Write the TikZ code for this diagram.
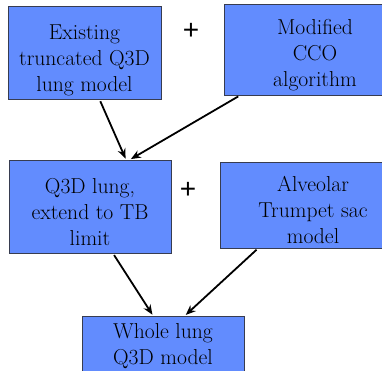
\documentclass[tikz,border=0pt]{standalone}
\usepackage{fontspec}
\newfontfamily\plusfont{Liberation Sans}
\usetikzlibrary{arrows.meta,positioning}
\definecolor{lungblue}{RGB}{98,140,254}
\definecolor{lungedge}{RGB}{55,60,80}
\newcommand\dropline[1]{\rule{0pt}{#1}}
\tikzset{
  stage/.style={rectangle,draw=lungedge,fill=lungblue,line width=0.8pt,
                font=\fontsize{21.6}{26}\selectfont,align=center,inner sep=2pt},
  arr/.style={-{Stealth[length=10pt,width=8pt]},line width=1.8pt,
              shorten <=2pt,shorten >=1pt},
  plus/.style={font=\plusfont\fontsize{28}{28}\selectfont,inner sep=0pt},
}

\begin{document}
\begin{tikzpicture}[x=1pt,y=-1pt]
  \useasboundingbox (0,0) rectangle (382,371);
  \node[stage,minimum width=153pt,minimum height=93pt] (trunc) at (84.5,52.5)
    {\dropline{31pt}Existing\\truncated Q3D\\lung model};
  \node[stage,minimum width=182pt,minimum height=91pt] (cco) at (315,49.5)
    {\dropline{27pt}Modified\\CCO\\algorithm};
  \node[stage,minimum width=162pt,minimum height=93pt] (tb) at (90,206.5)
    {\dropline{26pt}Q3D lung,\\extend to TB\\limit};
  \node[stage,minimum width=186pt,minimum height=86pt] (sac) at (313,205)
    {\dropline{25pt}Alveolar\\Trumpet sac\\model};
  \node[stage,minimum width=162pt,minimum height=57pt] (whole) at (163,344.5)
    {\dropline{19pt}Whole lung\\Q3D model};
  \node[plus] (plus1) at (191,31) {+};
  \node[plus] (plus2) at (188,190) {+};
  \foreach \a/\da/\b/\db in {trunc/15/tb/36, cco/-75/tb/40,
                             tb/23/whole/-10, sac/-55/whole/22}
    \draw[arr] ([xshift=\da pt]\a.south) -- ([xshift=\db pt]\b.north);
\end{tikzpicture}
\end{document}
